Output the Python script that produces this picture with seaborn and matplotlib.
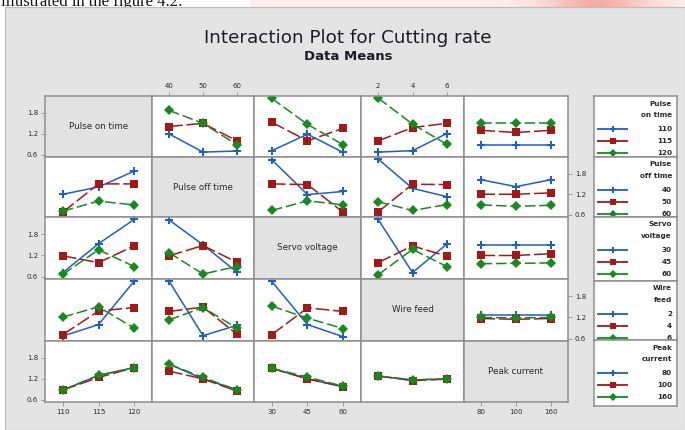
import matplotlib
matplotlib.use("Agg")
import matplotlib.pyplot as plt
import numpy as np
import pandas as pd
import seaborn as sns
from matplotlib.patches import Rectangle

sns.set_theme(style="white")
plt.rcParams["font.family"] = ["DejaVu Sans"]

# ---- factors and their levels -------------------------------------------
factors = ["Pulse on time", "Pulse off time", "Servo voltage", "Wire feed", "Peak current"]
legend_titles = [("Pulse", "on time"), ("Pulse", "off time"), ("Servo", "voltage"),
                 ("Wire", "feed"), ("Peak", "current")]
on_levels = ["110", "115", "120"]
off_levels = ["40", "50", "60"]
servo_levels = ["30", "45", "60"]
wire_levels = ["2", "4", "6"]
peak_levels = ["80", "100", "160"]
levels = [on_levels, off_levels, servo_levels, wire_levels, peak_levels]

# ---- cutting-rate cell means: rows = levels of first factor, cols = second --
on_off = [[1.20, 0.68, 0.71], [1.41, 1.50, 1.00], [1.87, 1.50, 0.89]]
on_servo = [[0.72, 1.19, 0.67], [1.53, 1.00, 1.36], [2.21, 1.47, 0.89]]
on_wire = [[0.68, 0.72, 1.21], [1.00, 1.38, 1.50], [2.22, 1.48, 0.90]]
on_peak = [[0.88, 0.88, 0.88], [1.30, 1.24, 1.30], [1.52, 1.52, 1.52]]
off_servo = [[2.20, 1.19, 1.28], [1.50, 1.48, 0.68], [0.73, 1.01, 0.89]]
off_wire = [[2.22, 1.37, 1.13], [0.69, 1.49, 1.48], [0.98, 0.73, 0.90]]
off_peak = [[1.62, 1.42, 1.62], [1.20, 1.20, 1.24], [0.89, 0.85, 0.88]]
servo_wire = [[2.21, 0.72, 1.52], [1.00, 1.47, 1.18], [0.66, 1.37, 0.89]]
servo_peak = [[1.50, 1.50, 1.50], [1.20, 1.20, 1.25], [0.97, 0.98, 0.99]]
wire_peak = [[1.28, 1.28, 1.28], [1.17, 1.15, 1.17], [1.20, 1.19, 1.20]]

pair_tables = {
    (0, 1): on_off, (0, 2): on_servo, (0, 3): on_wire, (0, 4): on_peak,
    (1, 2): off_servo, (1, 3): off_wire, (1, 4): off_peak,
    (2, 3): servo_wire, (2, 4): servo_peak, (3, 4): wire_peak,
}

y_ticks = [0.6, 1.2, 1.8]
y_tick_labels = ["0.6", "1.2", "1.8"]

# ---- styling ----------------------------------------------------------------
line_colors = ["#1f5fc0", "#a31818", "#18891f"]
line_markers = ["P", "s", "D"]
line_dashes = ["", (9, 2.5), (7, 2.5)]

W, H = 685, 430
col_edges = [45, 152, 254, 361, 464, 568]
row_edges = [96, 157, 217, 279, 341, 402]
legend_edges = [96, 157, 217, 281, 340, 406]
legend_x = (594, 677)
grid_col = "#8e8e8e"
bg_col = "#e4e4e4"
txt_col = "#2a2a2a"

fig = plt.figure(figsize=(W / 100, H / 100), dpi=100)
fig.patch.set_facecolor("white")


def px_axes(x0, y0, x1, y1):
    return fig.add_axes([x0 / W, 1 - y1 / H, (x1 - x0) / W, (y1 - y0) / H])


def panel_frame(i, j):
    """Long table for the panel with factor j on x and factor i as the traces."""
    if i < j:
        tab = np.array(pair_tables[(i, j)])
    else:
        tab = np.array(pair_tables[(j, i)]).T
    rows = []
    for a, lev in enumerate(levels[i]):
        for b in range(3):
            rows.append({"x": b, "mean": tab[a, b], "level": lev})
    return pd.DataFrame(rows)


# faint coloured band along the top edge of the page
band = px_axes(250, 0, W, 8)
band.set_axis_off()
gx = np.linspace(0, 1, 200)
alpha = 0.12 + 0.45 * np.exp(-((gx - 0.8) / 0.12) ** 2)
rgba = np.zeros((1, 200, 4))
rgba[..., 0], rgba[..., 1], rgba[..., 2] = 0.93, 0.45, 0.38
rgba[..., 3] = alpha
band.imshow(rgba, aspect="auto", extent=(0, 1, 0, 1))
band.set_zorder(-3)

# page text above the figure frame and the grey frame itself
fig.text(1 / W, 1 - 5.5 / H, "illustrated in the figure 4.2:", family="Liberation Serif",
         fontsize=12, color="#111111", va="baseline", ha="left", zorder=-2)
fig.add_artist(Rectangle((5 / W, 0), (W - 5) / W, (H - 7) / H, transform=fig.transFigure,
                         facecolor=bg_col, edgecolor="#bdbdbd", lw=0.8, zorder=-1))

fig.text(348 / W, 1 - 38 / H, "Interaction Plot for Cutting rate", ha="center", va="center",
         fontsize=13.2, color="#1c1c28")
fig.text(348 / W, 1 - 57 / H, "Data Means", ha="center", va="center",
         fontsize=9.5, fontweight="bold", color="#1c1c28")

for i in range(5):
    for j in range(5):
        ax = px_axes(col_edges[j], row_edges[i], col_edges[j + 1], row_edges[i + 1])
        if i == j:
            ax.set_facecolor("#e2e2e2")
            ax.text(0.5, 0.5, factors[i], transform=ax.transAxes, ha="center", va="center",
                    fontsize=6.3, color=txt_col)
        else:
            ax.set_facecolor("white")
            df = panel_frame(i, j)
            lv = levels[i]
            sns.lineplot(data=df, x="x", y="mean", hue="level", style="level",
                         hue_order=lv, style_order=lv,
                         palette=dict(zip(lv, line_colors)),
                         markers=dict(zip(lv, line_markers)),
                         dashes=dict(zip(lv, line_dashes)),
                         markersize=5.3, markeredgewidth=0, linewidth=1.1,
                         errorbar=None, legend=False, ax=ax)
        ax.set_xlim(-0.5, 2.5)
        ax.set_ylim(0.54, 2.28)
        ax.set_xlabel("")
        ax.set_ylabel("")
        for s in ax.spines.values():
            s.set_color(grid_col)
            s.set_linewidth(1.1)
        ax.set_xticks(range(3))
        ax.set_xticklabels(levels[j])
        ax.set_yticks(y_ticks)
        ax.set_yticklabels(y_tick_labels)
        ax.tick_params(axis="both", bottom=False, top=False, left=False, right=False,
                       labelbottom=False, labeltop=False, labelleft=False, labelright=False,
                       length=3, width=0.6, color=grid_col, labelsize=5, labelcolor=txt_col,
                       pad=2)
        if i == 0 and j in (1, 3):
            ax.tick_params(axis="x", top=True, labeltop=True)
        if i == 4 and j in (0, 2, 4):
            ax.tick_params(axis="x", bottom=True, labelbottom=True)
        if j == 0 and i in (0, 2, 4):
            ax.tick_params(axis="y", left=True, labelleft=True)
        if j == 4 and i in (1, 3):
            ax.tick_params(axis="y", right=True, labelright=True)

# legend boxes on the right, one per trace factor
for i in range(5):
    top, bot = legend_edges[i], legend_edges[i + 1]
    lax = px_axes(legend_x[0], top, legend_x[1], bot)
    lax.set_facecolor("white")
    lax.set_xlim(0, legend_x[1] - legend_x[0])
    lax.set_ylim(bot - top, 0)
    lax.set_xticks([])
    lax.set_yticks([])
    for s in lax.spines.values():
        s.set_color(grid_col)
        s.set_linewidth(1.1)
    t1, t2 = legend_titles[i]
    lax.text(78, 7.5, t1, ha="right", va="center", fontsize=5.2, fontweight="bold", color=txt_col)
    lax.text(78, 19, t2, ha="right", va="center", fontsize=5.2, fontweight="bold", color=txt_col)
    for k, lev in enumerate(levels[i]):
        yy = 33 + 12 * k
        lax.plot([3, 34], [yy, yy], color=line_colors[k], lw=1.3, solid_capstyle="butt")
        lax.plot([18.5], [yy], marker=line_markers[k], color=line_colors[k], ms=4.5, mew=0)
        lax.text(78, yy, lev, ha="right", va="center", fontsize=5.2, fontweight="bold",
                 color=txt_col)

fig.savefig("out.png", dpi=100)
